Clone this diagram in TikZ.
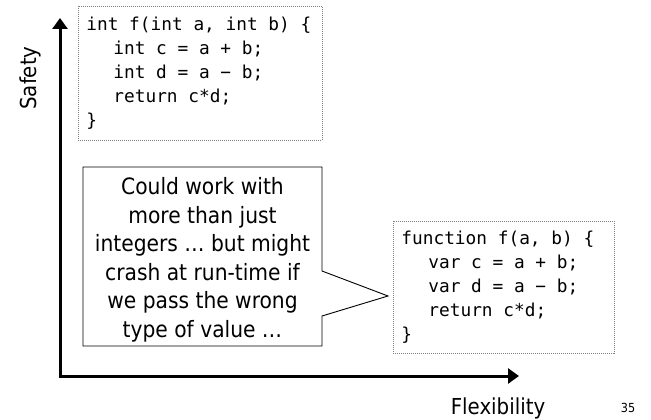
\documentclass[tikz,border=0pt]{standalone}
\usepackage{fontspec}
\setmainfont{DejaVu Sans Condensed}
\newfontfamily\codefont{DejaVu Sans Mono}
\newcommand{\codesetup}{\spaceskip=10.7pt\relax\xspaceskip=10.7pt\relax}
\usetikzlibrary{arrows.meta}
\tikzset{
  axis/.style={line width=3pt, {Triangle[width=15pt,length=11pt]}-{Triangle[width=15pt,length=11pt]}},
  codebox/.style={draw=gray, dash pattern=on 1pt off 1pt, line width=0.8pt, anchor=north west,
    inner xsep=8pt, inner ysep=0pt, align=left,
    font=\codefont\fontsize{17.8}{24}\selectfont},
  calloutline/.style={draw=black, line width=0.9pt, fill=white},
  calltext/.style={align=center, font=\fontsize{22.5}{28.5}\selectfont, inner sep=0pt},
  axlabel/.style={font=\fontsize{22}{26}\selectfont, inner sep=0pt}
}
\newcommand{\ind}{\hspace*{27pt}}
\begin{document}
\begin{tikzpicture}[x=1pt,y=-1pt]
\useasboundingbox (0,0) rectangle (651,420);
% axes
\coordinate (ytip) at (60,18);
\coordinate (corner) at (60,376);
\coordinate (xtip) at (519,376);
\draw[axis] (ytip) -- (corner) -- (xtip);
\node[axlabel, rotate=90] (safety) at (30,78) {Safety};
\node[axlabel] (flex) at (498,408) {Flexibility};
\node[font=\fontsize{12.5}{14}\selectfont, inner sep=0pt] (pagenum) at (628,408) {35};
% code boxes
\node[codebox, text width=228pt, minimum height=134pt] (typed) at (78,6)
  {\codesetup int f(int a, int b) \{\\
   \ind int c = a + b;\\
   \ind int d = a − b;\\
   \ind return c*d;\\
   \}};
\node[codebox, text width=205pt, minimum height=132pt] (untyped) at (393,221)
  {\codesetup function f(a, b) \{\\
   \ind var c = a + b;\\
   \ind var d = a − b;\\
   \ind return c*d;\\
   \}};
% callout
\coordinate (tip) at (388,296);
\draw[calloutline] (83,167) -- (322,167) -- (322,271) -- (tip) -- (322,316) -- (322,346) -- (83,346) -- cycle;
\node[calltext] (note) at (202.5,260)
  {Could work with\\more than just\\integers … but might\\crash at run-time if\\we pass the wrong\\type of value …};
\end{tikzpicture}
\end{document}
